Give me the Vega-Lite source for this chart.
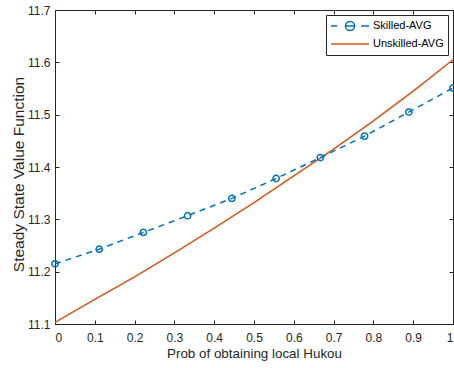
{
  "$schema": "https://vega.github.io/schema/vega-lite/v6.json",
  "width": 398,
  "height": 314,
  "autosize": "none",
  "padding": {"left": 55, "top": 10, "right": 1, "bottom": 44},
  "config": {
    "font": "Liberation Sans",
    "view": {"stroke": "#262626", "strokeWidth": 1},
    "axis": {
      "grid": false,
      "domainColor": "#262626",
      "tickColor": "#262626",
      "tickSize": -4,
      "labelColor": "#262626",
      "titleColor": "#262626",
      "labelFontSize": 12,
      "titleFontWeight": "normal"
    }
  },
  "data": {
    "values": [
      {"series": "Unskilled-AVG", "x": 0.0, "y": 11.103},
      {"series": "Unskilled-AVG", "x": 0.1, "y": 11.147},
      {"series": "Unskilled-AVG", "x": 0.2, "y": 11.190},
      {"series": "Unskilled-AVG", "x": 0.3, "y": 11.236},
      {"series": "Unskilled-AVG", "x": 0.4, "y": 11.283},
      {"series": "Unskilled-AVG", "x": 0.5, "y": 11.332},
      {"series": "Unskilled-AVG", "x": 0.6, "y": 11.383},
      {"series": "Unskilled-AVG", "x": 0.7, "y": 11.434},
      {"series": "Unskilled-AVG", "x": 0.8, "y": 11.488},
      {"series": "Unskilled-AVG", "x": 0.9, "y": 11.545},
      {"series": "Unskilled-AVG", "x": 1.0, "y": 11.605},
      {"series": "Skilled-AVG", "x": 0.0, "y": 11.215},
      {"series": "Skilled-AVG", "x": 0.1111, "y": 11.243},
      {"series": "Skilled-AVG", "x": 0.2222, "y": 11.275},
      {"series": "Skilled-AVG", "x": 0.3333, "y": 11.307},
      {"series": "Skilled-AVG", "x": 0.4444, "y": 11.340},
      {"series": "Skilled-AVG", "x": 0.5556, "y": 11.378},
      {"series": "Skilled-AVG", "x": 0.6667, "y": 11.418},
      {"series": "Skilled-AVG", "x": 0.7778, "y": 11.459},
      {"series": "Skilled-AVG", "x": 0.8889, "y": 11.505},
      {"series": "Skilled-AVG", "x": 1.0, "y": 11.551}
    ]
  },
  "resolve": {"axis": {"x": "independent", "y": "independent"}},
  "layer": [
    {
      "transform": [{"filter": "datum.series === 'Unskilled-AVG'"}],
      "mark": {"type": "line", "strokeWidth": 1.5},
      "encoding": {
        "x": {
          "field": "x", "type": "quantitative",
          "scale": {"domain": [0, 1], "nice": false, "zero": false},
          "axis": {"orient": "bottom", "values": [0, 0.1, 0.2, 0.3, 0.4, 0.5, 0.6, 0.7, 0.8, 0.9, 1], "format": "~g", "title": "Prob of obtaining local Hukou", "titleFontSize": 13.4, "labelPadding": 12, "titlePadding": 3}
        },
        "y": {
          "field": "y", "type": "quantitative",
          "scale": {"domain": [11.1, 11.7], "nice": false, "zero": false},
          "axis": {"orient": "left", "values": [11.1, 11.2, 11.3, 11.4, 11.5, 11.6, 11.7], "format": ".1f", "title": "Steady State Value Function", "titleFontSize": 15.5, "titleY": 164, "labelPadding": 9, "titlePadding": 1}
        },
        "color": {
          "field": "series", "type": "nominal",
          "scale": {"domain": ["Skilled-AVG", "Unskilled-AVG"], "range": ["#0072BD", "#D95319"]},
          "legend": {
            "title": null,
            "orient": "top-right",
            "offset": 5,
            "symbolType": "M-1,0H1",
            "symbolSize": 1444,
            "symbolStrokeWidth": 1.5,
            "clipHeight": 14,
            "labelFontSize": 11,
            "labelColor": "#000000",
            "labelOffset": 3,
            "strokeColor": "#262626",
            "fillColor": "#ffffff",
            "padding": 4,
            "rowPadding": 4,
            "encode": {
              "symbols": {
                "update": {
                  "shape": {"signal": "datum.value === 'Skilled-AVG' ? 'M-1,0H-0.68M-0.24,0A0.24,0.24 0 1,0 0.24,0A0.24,0.24 0 1,0 -0.24,0M-0.24,0H0.24M0.58,0H1' : 'M-1,0H1'"},
                  "fill": {"value": "transparent"}
                }
              }
            }
          }
        }
      }
    },
    {
      "transform": [{"filter": "datum.series === 'Skilled-AVG'"}],
      "mark": {"type": "line", "strokeWidth": 1.5, "strokeDash": [6, 5]},
      "encoding": {
        "x": {"field": "x", "type": "quantitative", "axis": null},
        "y": {"field": "y", "type": "quantitative", "axis": null},
        "color": {"field": "series", "type": "nominal"}
      }
    },
    {
      "transform": [{"filter": "datum.series === 'Skilled-AVG'"}],
      "mark": {"type": "point", "shape": "circle", "filled": false, "size": 40, "strokeWidth": 1.5, "opacity": 1},
      "encoding": {
        "x": {
          "field": "x", "type": "quantitative",
          "axis": {"orient": "top", "values": [0, 0.1, 0.2, 0.3, 0.4, 0.5, 0.6, 0.7, 0.8, 0.9, 1], "labels": false, "domain": false, "title": null}
        },
        "y": {
          "field": "y", "type": "quantitative",
          "axis": {"orient": "right", "values": [11.1, 11.2, 11.3, 11.4, 11.5, 11.6, 11.7], "labels": false, "domain": false, "title": null}
        },
        "color": {"field": "series", "type": "nominal"}
      }
    }
  ]
}
